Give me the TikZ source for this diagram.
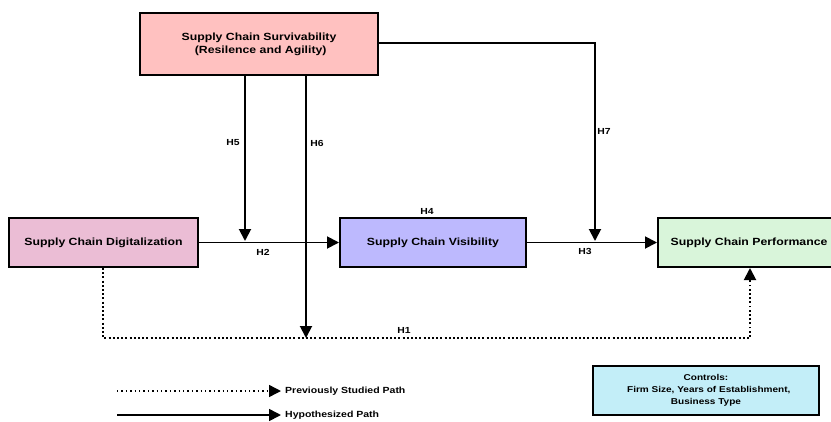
\documentclass[tikz,border=0pt]{standalone}
\usepackage{fontspec}
\setmainfont{Liberation Sans}
\newfontfamily\wfont[FakeStretch=1.18]{Liberation Sans}
\usetikzlibrary{arrows.meta}
\definecolor{survc}{HTML}{FFC1C0}
\definecolor{digc}{HTML}{EBBDD5}
\definecolor{visc}{HTML}{BDB9FE}
\definecolor{perfc}{HTML}{D9F5DA}
\definecolor{ctrlc}{HTML}{C3EEF8}
\tikzset{
  box/.style={draw=black, line width=2pt, rectangle, inner sep=0pt, align=center,
    font=\wfont\fontsize{10.4}{14}\selectfont\bfseries},
  conn/.style={line width=1.9pt, -{Triangle[length=12pt,width=12pt]}},
  dotconn/.style={line width=1.9pt, dash pattern=on 1.9pt off 2.3pt, -{Triangle[length=12pt,width=12pt]}},
  hlabel/.style={font=\wfont\fontsize{8.8}{10}\selectfont\bfseries, inner sep=0pt},
  legtext/.style={font=\wfont\fontsize{8.9}{12}\selectfont\bfseries, anchor=west, inner sep=0pt}
}
\begin{document}
\begin{tikzpicture}[x=1pt,y=-1pt]
\useasboundingbox (0,0) rectangle (831,421);
\node[box, fill=survc, minimum width=238pt, minimum height=62pt] (surv) at (259,44)
  {Supply Chain Survivability\\[-1pt]\ (Resilence and Agility)};
\node[box, fill=digc, minimum width=189pt, minimum height=49pt] (dig) at (103.5,242.5) {Supply Chain Digitalization};
\node[box, fill=visc, minimum width=186pt, minimum height=49pt] (vis) at (433,242.5) {Supply Chain Visibility};
\node[box, fill=perfc, minimum width=182pt, minimum height=49pt] (perf) at (749,242.5) {Supply Chain Performance};
\node[box, fill=ctrlc, minimum width=226pt, minimum height=49pt, font=\wfont\fontsize{8.5}{12}\selectfont\bfseries] (ctrl) at (706,390.5)
  {Controls:\\\ \ Firm Size, Years of Establishment,\\Business Type};

\coordinate (h5s) at (245,75);
\coordinate (h5e) at (245,241);
\coordinate (h6s) at (306,75);
\coordinate (h6e) at (306,338);
\coordinate (h7c) at (595,43);
\coordinate (h7e) at (595,241);
\coordinate (h1a) at (103,338);
\coordinate (h1b) at (750,338);

\draw[conn] (dig.east) -- (vis.west);
\draw[conn] (vis.east) -- (perf.west);
\draw[conn] (h5s) -- (h5e);
\draw[conn] (h6s) -- (h6e);
\draw[conn] (surv.east |- h7c) -- (h7c) -- (h7e);
\draw[dotconn] (dig.south -| h1a) -- (h1a) -- (h1b) -- (perf.south -| h1b);

\node[hlabel] (lh5) at (233,143) {H5};
\node[hlabel] (lh6) at (317,143) {H6};
\node[hlabel] (lh7) at (604,131) {H7};
\node[hlabel] (lh4) at (427,211) {H4};
\node[hlabel] (lh2) at (263,252) {H2};
\node[hlabel] (lh3) at (585,251) {H3};
\node[hlabel] (lh1) at (404,330) {H1};

\coordinate (l1s) at (117,391);
\coordinate (l1e) at (281,391);
\coordinate (l2s) at (117,415);
\coordinate (l2e) at (281,415);
\draw[dotconn, line width=1.4pt, dash pattern=on 1.4pt off 3pt] (l1s) -- (l1e);
\draw[conn, line width=1.6pt] (l2s) -- (l2e);
\node[legtext] (lt1) at (285,391) {Previously Studied Path};
\node[legtext] (lt2) at (285,415) {Hypothesized Path};
\end{tikzpicture}
\end{document}
